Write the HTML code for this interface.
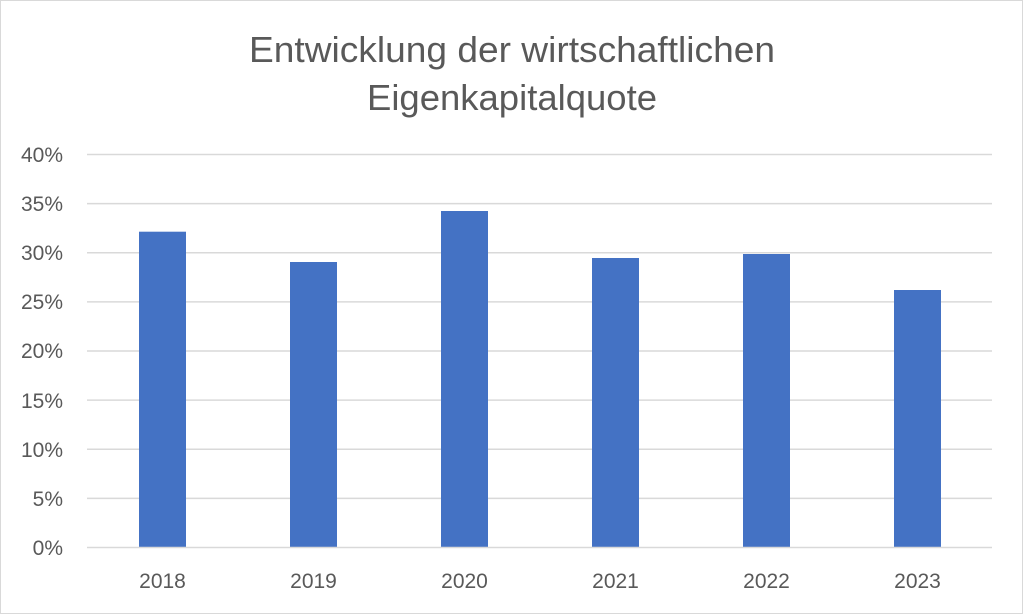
<!DOCTYPE html>
<html><head><meta charset="utf-8"><style>
html,body{margin:0;padding:0;background:#fff}
svg{display:block}
text{font-family:"Liberation Sans",sans-serif;fill:#595959}
</style></head><body>
<svg width="1024" height="615" viewBox="0 0 1024 615">
<rect x="0.5" y="0.5" width="1022" height="613" fill="#fff" stroke="#d9d9d9"/>
<text x="512" y="62" font-size="36" text-anchor="middle" textLength="526" lengthAdjust="spacingAndGlyphs">Entwicklung der wirtschaftlichen</text>
<text x="512" y="110" font-size="36" text-anchor="middle" textLength="290" lengthAdjust="spacingAndGlyphs">Eigenkapitalquote</text>
<g stroke="#d9d9d9" stroke-width="1.5">
<line x1="87" x2="992" y1="154.5" y2="154.5"/>
<line x1="87" x2="992" y1="203.6" y2="203.6"/>
<line x1="87" x2="992" y1="252.8" y2="252.8"/>
<line x1="87" x2="992" y1="301.9" y2="301.9"/>
<line x1="87" x2="992" y1="351" y2="351"/>
<line x1="87" x2="992" y1="400.1" y2="400.1"/>
<line x1="87" x2="992" y1="449.3" y2="449.3"/>
<line x1="87" x2="992" y1="498.4" y2="498.4"/>
</g>
<g fill="#4472c4">
<rect x="139" y="231.7" width="47" height="315.8"/>
<rect x="290" y="262" width="47" height="285.5"/>
<rect x="441" y="211" width="47" height="336.5"/>
<rect x="592" y="258" width="47" height="289.5"/>
<rect x="743" y="254" width="47" height="293.5"/>
<rect x="894" y="290" width="47" height="257.5"/>
</g>
<line x1="87" x2="992" y1="547.5" y2="547.5" stroke="#d9d9d9" stroke-width="1.5"/>
<g font-size="21" text-anchor="end">
<text x="63" y="162">40%</text>
<text x="63" y="211">35%</text>
<text x="63" y="260">30%</text>
<text x="63" y="309">25%</text>
<text x="63" y="358">20%</text>
<text x="63" y="408">15%</text>
<text x="63" y="457">10%</text>
<text x="63" y="506">5%</text>
<text x="63" y="555">0%</text>
</g>
<g font-size="21" text-anchor="middle">
<text x="162.5" y="588">2018</text>
<text x="313.5" y="588">2019</text>
<text x="464.5" y="588">2020</text>
<text x="615.5" y="588">2021</text>
<text x="766.5" y="588">2022</text>
<text x="917.5" y="588">2023</text>
</g>
</svg>
</body></html>
